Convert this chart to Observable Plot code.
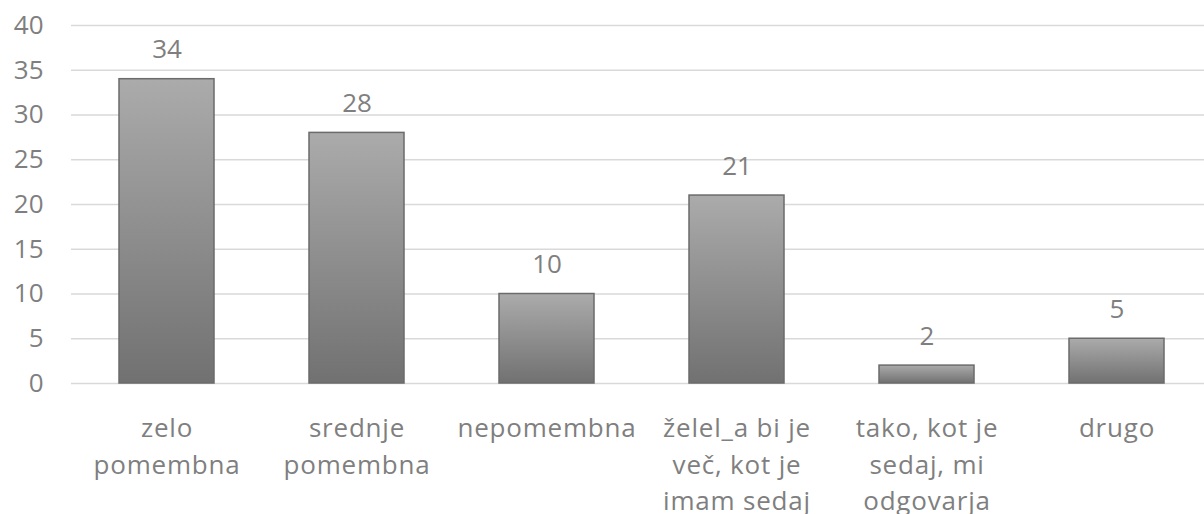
<!DOCTYPE html>
<html>
<head>
<meta charset="utf-8">
<script src="https://cdn.jsdelivr.net/npm/d3@7"></script>
<script src="https://cdn.jsdelivr.net/npm/@observablehq/plot@0.6"></script>
<style>
  html, body { margin: 0; padding: 0; background: #fff; }
  g.xlabels text { letter-spacing: 0.8px; }
</style>
</head>
<body>
<div id="chart"></div>
<script>
const categories = ["zelo pomembna", "srednje pomembna", "nepomembna", "želel_a bi je več, kot je imam sedaj", "tako, kot je sedaj, mi odgovarja", "drugo"];
const tickLabels = ["zelo\npomembna", "srednje\npomembna", "nepomembna", "želel_a bi je\nveč, kot je\nimam sedaj", "tako, kot je\nsedaj, mi\nodgovarja", "drugo"];
const values = [34, 28, 10, 21, 2, 5];
const yTicks = [0, 5, 10, 15, 20, 25, 30, 35, 40];

const data = categories.map((c, i) => ({category: c, value: values[i], label: tickLabels[i]}));

const W = 1204, H = 514;
const chart = Plot.plot({
  width: W,
  height: H,
  marginLeft: 71,
  marginRight: 0,
  marginTop: 25,
  marginBottom: 131,
  style: {fontFamily: "'Open Sans', sans-serif", fontSize: "26px", color: "#7f7f7f", background: "#fff"},
  x: {domain: categories, range: [71.4, 1212.6], paddingInner: 0.5, paddingOuter: 0.25, axis: null},
  y: {domain: [0, 40], ticks: yTicks, axis: null},
  marks: [
    Plot.ruleY(yTicks, {stroke: "#d9d9d9", strokeWidth: 1.5}),
    Plot.axisY(yTicks, {tickSize: 0, tickPadding: 28, fontSize: 26, fill: "#7f7f7f", label: null}),
    Plot.barY(data, {x: "category", y: "value", fill: "url(#barGrad)", stroke: "#6b6b6b", strokeWidth: 1.5}),
    Plot.text(data, {x: "category", y: "value", text: d => String(d.value), lineAnchor: "bottom", dy: -21, fontSize: 26, fill: "#7f7f7f"}),
    Plot.text(data, {x: "category", y: () => 0, text: "label", lineAnchor: "top", dy: 28, lineHeight: 1.4, fontSize: 26, fill: "#7f7f7f", className: "xlabels"})
  ]
});

const ns = "http://www.w3.org/2000/svg";
const defs = document.createElementNS(ns, "defs");
const grad = document.createElementNS(ns, "linearGradient");
grad.setAttribute("id", "barGrad");
grad.setAttribute("x1", "0"); grad.setAttribute("y1", "0");
grad.setAttribute("x2", "0"); grad.setAttribute("y2", "1");
[["0%", "#ababab"], ["100%", "#717171"]].forEach(([o, c]) => {
  const s = document.createElementNS(ns, "stop");
  s.setAttribute("offset", o);
  s.setAttribute("stop-color", c);
  grad.appendChild(s);
});
defs.appendChild(grad);
chart.insertBefore(defs, chart.firstChild);

document.getElementById("chart").appendChild(chart);
</script>
</body>
</html>
